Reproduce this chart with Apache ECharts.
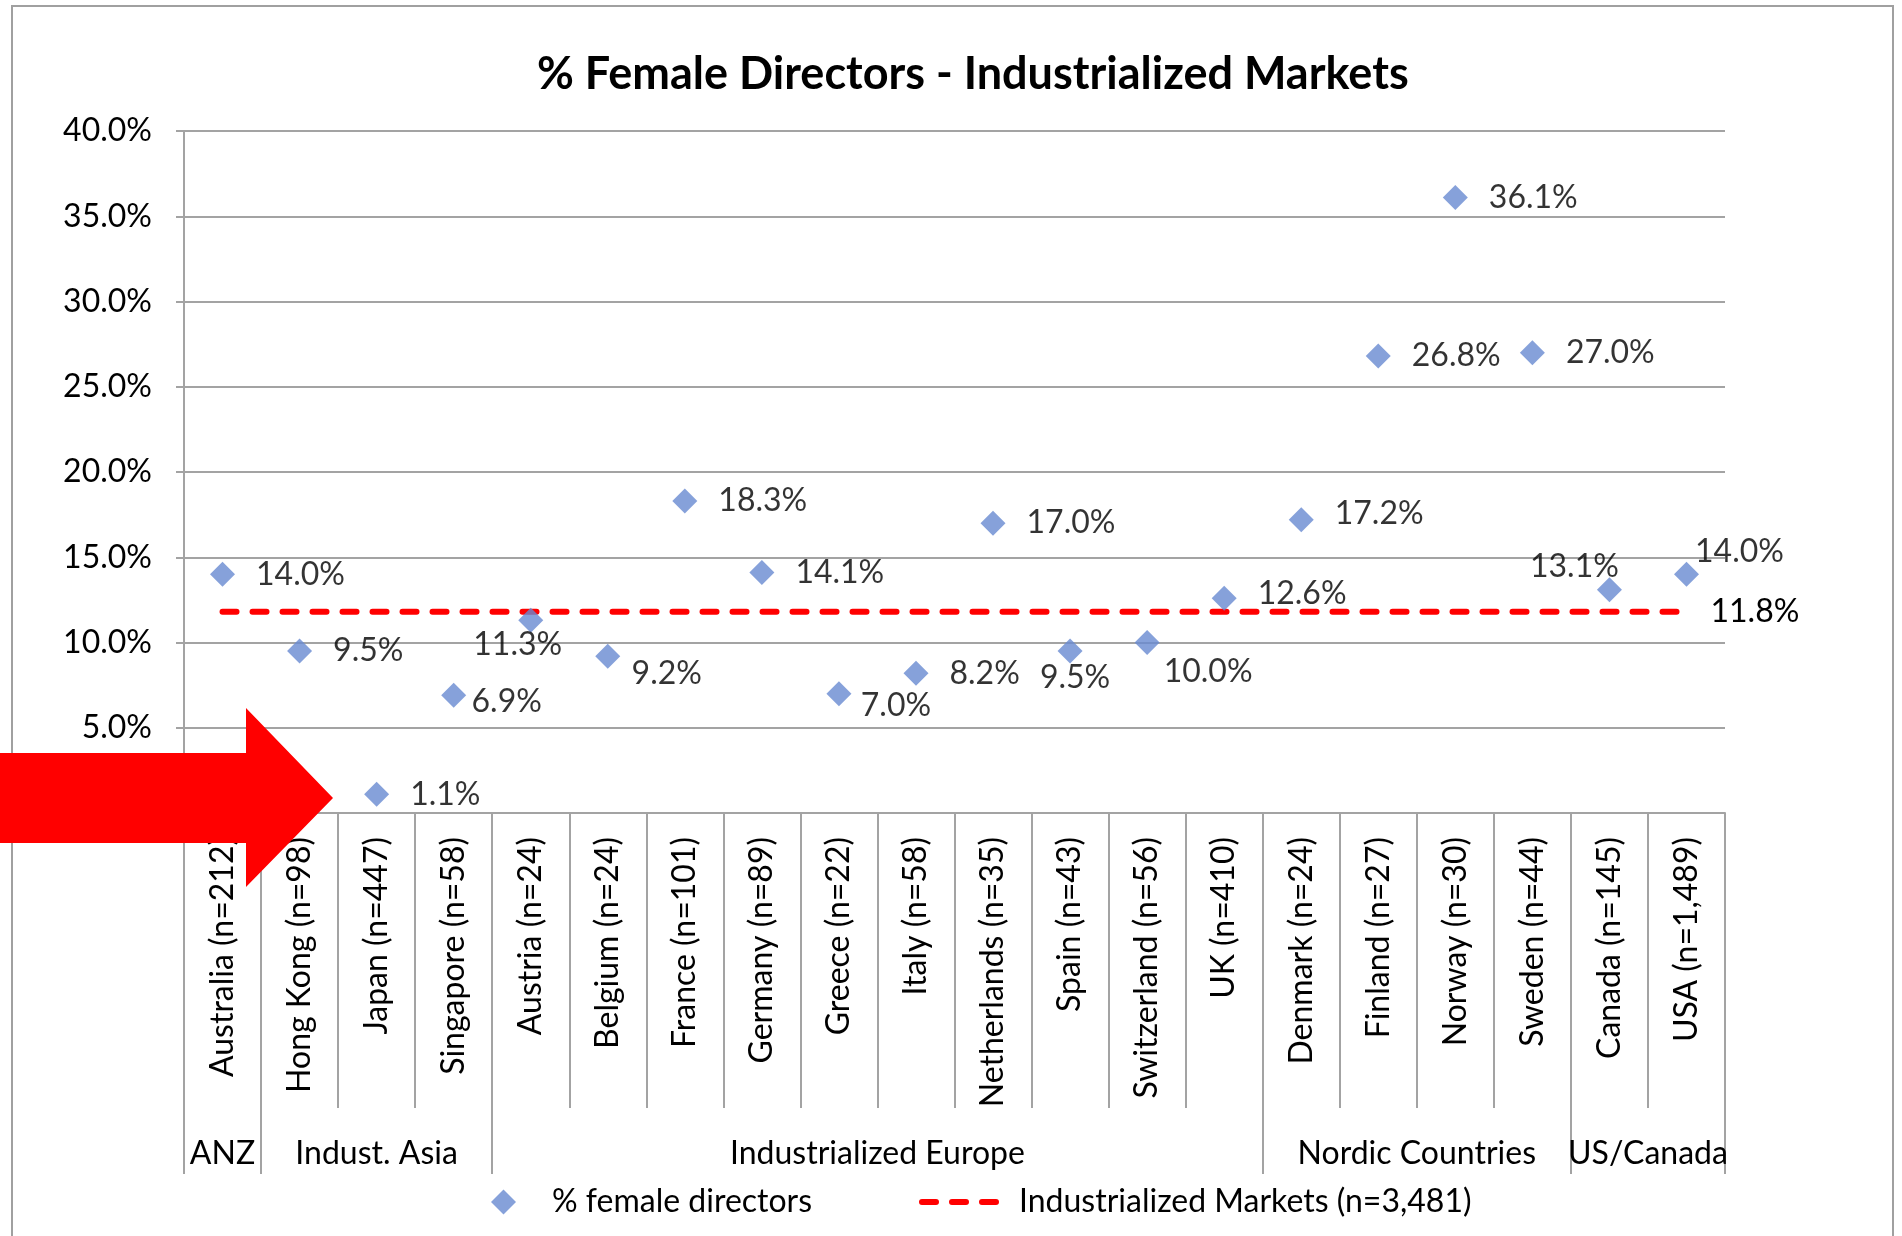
<!DOCTYPE html>
<html><head><meta charset="utf-8">
<script src="https://cdn.jsdelivr.net/npm/echarts@6/dist/echarts.min.js"></script>
<style>html,body{margin:0;padding:0;background:#fff}#c{width:1902px;height:1236px}</style>
</head><body><div id="c"></div>
<script>
const categories = ['Australia (n=212)', 'Hong Kong (n=98)', 'Japan (n=447)', 'Singapore (n=58)',
  'Austria (n=24)', 'Belgium (n=24)', 'France (n=101)', 'Germany (n=89)', 'Greece (n=22)',
  'Italy (n=58)', 'Netherlands (n=35)', 'Spain (n=43)', 'Switzerland (n=56)', 'UK (n=410)',
  'Denmark (n=24)', 'Finland (n=27)', 'Norway (n=30)', 'Sweden (n=44)', 'Canada (n=145)', 'USA (n=1,489)'];
const femalePct = [14.0, 9.5, 1.1, 6.9, 11.3, 9.2, 18.3, 14.1, 7.0, 8.2, 17.0, 9.5, 10.0, 12.6, 17.2, 26.8, 36.1, 27.0, 13.1, 14.0];
const industrializedAvg = 11.8;
const groupNames = ['ANZ', 'Indust. Asia', 'Industrialized Europe', 'Nordic Countries', 'US/Canada'];
const groupSizes = [1, 3, 10, 4, 2];
const seriesNames = ['% female directors', 'Industrialized Markets (n=3,481)'];
const titleText = '% Female Directors - Industrialized Markets';

// label placement tweaks (style only)
const labelTweaks = {
  3: {position: 'inside', offset: [53, 6]},
  4: {position: 'inside', offset: [-13, 24]},
  5: {position: 'inside', offset: [59, 18]},
  8: {position: 'inside', offset: [57, 12]},
  11: {position: 'inside', offset: [5, 27]},
  12: {position: 'inside', offset: [61, 29]},
  13: {offset: [0, -4]},
  14: {offset: [0, -6]},
  18: {position: 'inside', offset: [-35, -23]},
  19: {position: 'inside', offset: [53, -23]}
};

const FONT = 'Lato';
const FS = 32;
const GRAY = '#a3a3a3';
const chart = echarts.init(document.getElementById('c'), null, {renderer: 'canvas'});

const boundaries = new Set();
{ let s = 0; groupSizes.forEach(n => { boundaries.add(s); s += n; }); }

const option = {
  backgroundColor: '#fff',
  animation: false,
  textStyle: {fontFamily: FONT, color: '#000'},
  title: {
    text: titleText, left: 532, top: 47, padding: 5,
    textStyle: {fontFamily: FONT, fontWeight: 'bold', fontSize: 45, color: '#000'}
  },
  grid: {left: 184, right: 177, top: 131, bottom: 423, containLabel: false},
  legend: [
    {data: [seriesNames[0]], left: 491, top: 1186, padding: 0, itemWidth: 25, itemHeight: 25, icon: 'diamond',
     textStyle: {fontFamily: FONT, fontSize: FS, color: '#000', padding: [0, 0, 0, 31]}},
    {data: [seriesNames[1]], left: 919, top: 1186, padding: 0, itemWidth: 82, itemHeight: 25,
     lineStyle: {width: 6, type: [14, 16], cap: 'round', color: '#ff0000'},
     itemStyle: {color: 'rgba(0,0,0,0)', borderWidth: 0, opacity: 0},
     textStyle: {fontFamily: FONT, fontSize: FS, color: '#000', padding: [0, 0, 0, 10]}}
  ],
  xAxis: [
    {type: 'category', data: categories, boundaryGap: true,
     axisLine: {show: true, lineStyle: {color: GRAY, width: 2}},
     axisTick: {show: true, interval: 0, length: 295, lineStyle: {color: GRAY, width: 2}},
     axisLabel: {show: true, interval: 0, rotate: 90, margin: 24, fontFamily: FONT, fontSize: FS, color: '#000'},
     splitLine: {show: false}},
    {type: 'category', data: categories, boundaryGap: true, position: 'bottom',
     axisLine: {show: false},
     axisTick: {show: true, interval: (i) => boundaries.has(i), length: 361, lineStyle: {color: GRAY, width: 2}},
     axisLabel: {show: false}, splitLine: {show: false}}
  ],
  yAxis: {
    type: 'value', min: 0, max: 40, interval: 5,
    axisLine: {show: true, lineStyle: {color: GRAY, width: 2}},
    axisTick: {show: true, length: 8, lineStyle: {color: GRAY, width: 2}},
    axisLabel: {margin: 32, fontFamily: FONT, fontSize: FS, color: '#000', formatter: v => v.toFixed(1) + '%'},
    splitLine: {show: true, lineStyle: {color: GRAY, width: 2}}
  },
  series: [
    {name: seriesNames[0], type: 'scatter', symbol: 'diamond', symbolSize: 25,
     itemStyle: {color: '#6889d1'},
     label: {show: true, position: 'right', distance: 21, fontFamily: FONT, fontSize: FS, color: '#000',
             formatter: p => Number(p.value).toFixed(1) + '%'},
     data: femalePct.map((v, i) => labelTweaks[i] ? {value: v, label: labelTweaks[i]} : v),
     z: 5},
    {name: seriesNames[1], type: 'line', symbol: 'none', showSymbol: false,
     lineStyle: {color: '#ff0000', width: 6, type: [14, 16], cap: 'round'},
     itemStyle: {color: '#ff0000'},
     endLabel: {show: true, distance: 24, fontFamily: FONT, fontSize: FS, color: '#000',
                formatter: p => Number(p.value[1]).toFixed(1) + '%'},
     data: [[0, industrializedAvg], [categories.length - 1, industrializedAvg]],
     z: 4}
  ]
};
chart.setOption(option);

// group labels and frame / arrow annotations
const groupTexts = [];
{ let s = 0;
  groupNames.forEach((g, i) => {
    const e = s + groupSizes[i] - 1;
    const x0 = chart.convertToPixel({xAxisIndex: 0}, s);
    const x1 = chart.convertToPixel({xAxisIndex: 0}, e);
    groupTexts.push({type: 'text', x: (x0 + x1) / 2, y: 1154,
      style: {text: g, fontFamily: FONT, fontSize: FS, fill: '#000', align: 'center', verticalAlign: 'middle'}, z: 10});
    s += groupSizes[i];
  });
}
chart.setOption({
  graphic: [
    {type: 'rect', shape: {x: 12, y: 6, width: 1881, height: 1300}, style: {fill: null, stroke: '#a0a0a0', lineWidth: 2}, z: 1, silent: true},
    ...groupTexts,
    {type: 'polygon', shape: {points: [[0, 753], [246, 753], [246, 708], [333, 798], [246, 887], [246, 843], [0, 843]]},
     style: {fill: '#ff0000'}, z: 100}
  ]
});
</script></body></html>
